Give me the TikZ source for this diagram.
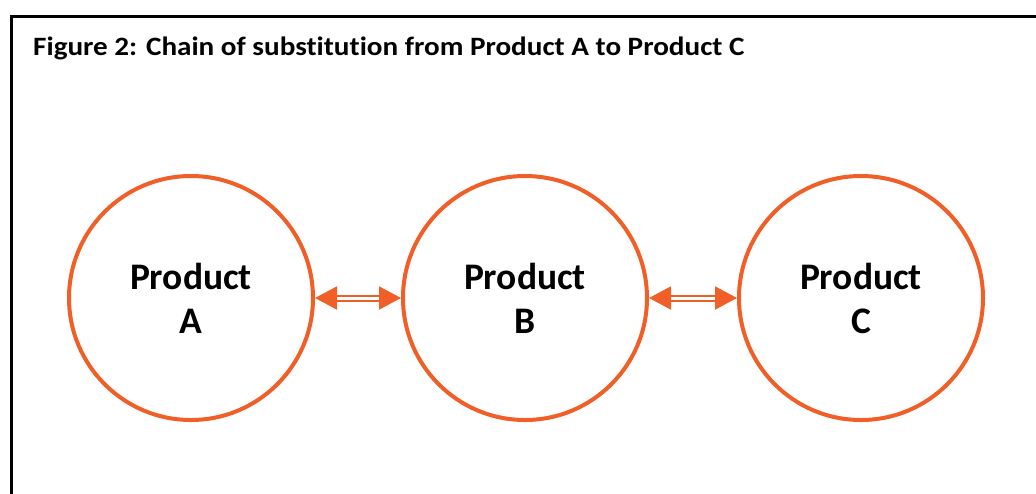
\documentclass[tikz,border=0pt]{standalone}
\usepackage{fontspec}
\setmainfont{Carlito}[Ligatures=NoCommon]
\usetikzlibrary{arrows.meta}
\definecolor{orng}{RGB}{240,95,40}
\tikzset{
  prod/.style={circle, draw=orng, line width=4pt, minimum size=244pt, inner sep=0pt,
    align=center, font=\fontsize{37.5}{44}\selectfont\bfseries},
  link/.style={draw=orng, line width=2pt, double=white, double distance=3pt,
    {Triangle[length=22pt,width=23pt,fill=orng]}-{Triangle[length=22pt,width=23pt,fill=orng]}},
  ttl/.style={anchor=base west, inner sep=0pt, font=\fontsize{26.5}{30}\selectfont\bfseries}
}
\begin{document}
\begin{tikzpicture}[x=1pt,y=-1pt]
\useasboundingbox (0,0) rectangle (1036,493);
\clip (0,0) rectangle (1036,493);
\draw[line width=3pt, black] (11,16) rectangle (1050,510);
\node[ttl] (title) at (33,55) {\scalebox{1.10}[1]{Figure 2: Chain of substitution from Product A to Product C}};
\node[prod] (A) at (191,298) {Product\\A};
\node[prod] (B) at (525,298) {Product\\B};
\node[prod] (C) at (861,298) {Product\\C};
\draw[link] (A) -- (B);
\draw[link] (B) -- (C);
\end{tikzpicture}
\end{document}
